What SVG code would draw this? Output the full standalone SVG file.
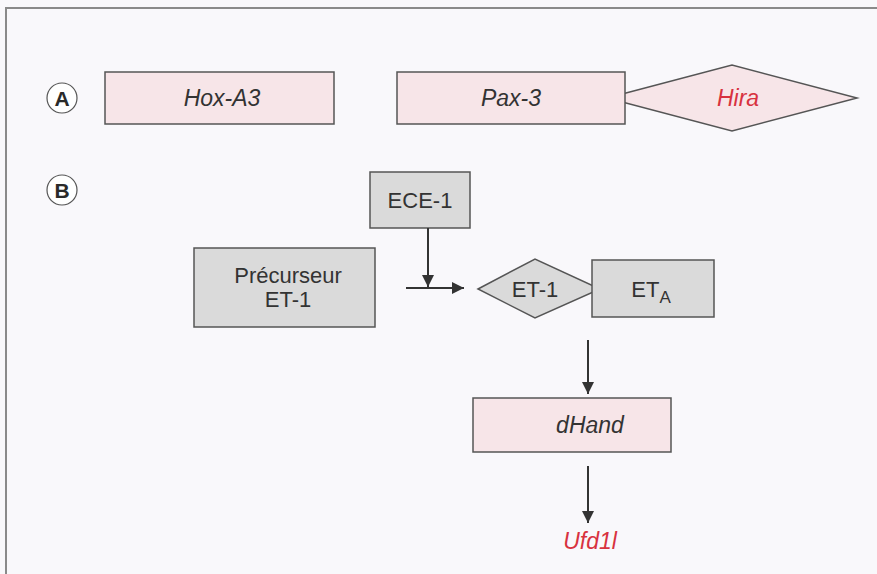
<svg xmlns="http://www.w3.org/2000/svg" width="877" height="574" viewBox="0 0 877 574">
<defs>
<style>
.pink{fill:#f7e5e8;stroke:#555;stroke-width:1.5}
.gray{fill:#dadada;stroke:#555;stroke-width:1.5}
.t{font-family:"Liberation Sans",Arial,sans-serif;font-size:22px;fill:#333;text-anchor:middle}
.it{font-style:italic;font-size:23px}
.red{fill:#d8323f}
.lbl{font-family:"Liberation Sans",Arial,sans-serif;font-size:21px;font-weight:bold;fill:#2a2a2a;text-anchor:middle}
.conn{stroke:#333;stroke-width:2;fill:none}
</style>
<marker id="ah" viewBox="0 0 10 10" refX="10" refY="5" markerWidth="6" markerHeight="6" orient="auto" markerUnits="strokeWidth">
<path d="M0,0 L10,5 L0,10 z" fill="#333"/>
</marker>
</defs>
<rect x="0" y="0" width="877" height="574" fill="#f9f8fb"/>
<path d="M6,574 L6,8 L877,8" fill="none" stroke="#8a8a8a" stroke-width="2"/>

<g id="labelA">
<circle cx="62" cy="98" r="15" fill="#fff" stroke="#555" stroke-width="1.2"/>
<text class="lbl" x="62" y="106">A</text>
</g>
<g id="labelB">
<circle cx="62" cy="190" r="15" fill="#fff" stroke="#555" stroke-width="1.2"/>
<text class="lbl" x="62" y="198">B</text>
</g>

<g id="hoxa3">
<rect class="pink" x="105" y="72" width="229" height="52"/>
<text class="t it" x="222" y="106">Hox-A3</text>
</g>
<g id="hira">
<polygon class="pink" points="607,98 732,65 857,98 732,131"/>
<text class="t it red" x="738" y="106">Hira</text>
</g>
<g id="pax3">
<rect class="pink" x="397" y="72" width="228" height="52"/>
<text class="t it" x="511" y="106">Pax-3</text>
</g>

<g id="ece1">
<rect class="gray" x="370" y="172" width="100" height="56"/>
<text class="t" x="420" y="208">ECE-1</text>
</g>
<g id="precurseur">
<rect class="gray" x="194" y="248" width="181" height="79"/>
<text class="t" x="288" y="283">Précurseur</text>
<text class="t" x="288" y="307">ET-1</text>
</g>
<g id="et1">
<polygon class="gray" points="478,289 535,259 600,289 535,318"/>
<text class="t" x="535" y="297">ET-1</text>
</g>
<g id="eta">
<rect class="gray" x="592" y="260" width="122" height="57"/>
<text class="t" x="651" y="297">ET<tspan font-size="17" dy="6">A</tspan></text>
</g>
<g id="dhand">
<rect class="pink" x="473" y="398" width="198" height="54"/>
<text class="t it" x="590" y="433">dHand</text>
</g>
<g id="ufd1l">
<text class="t it red" x="590" y="549">Ufd1l</text>
</g>

<g id="connectors">
<line class="conn" x1="406" y1="288" x2="464" y2="288" marker-end="url(#ah)"/>
<line class="conn" x1="428" y1="228" x2="428" y2="287" marker-end="url(#ah)"/>
<line class="conn" x1="588" y1="340" x2="588" y2="394" marker-end="url(#ah)"/>
<line class="conn" x1="588" y1="466" x2="588" y2="523" marker-end="url(#ah)"/>
</g>
</svg>
